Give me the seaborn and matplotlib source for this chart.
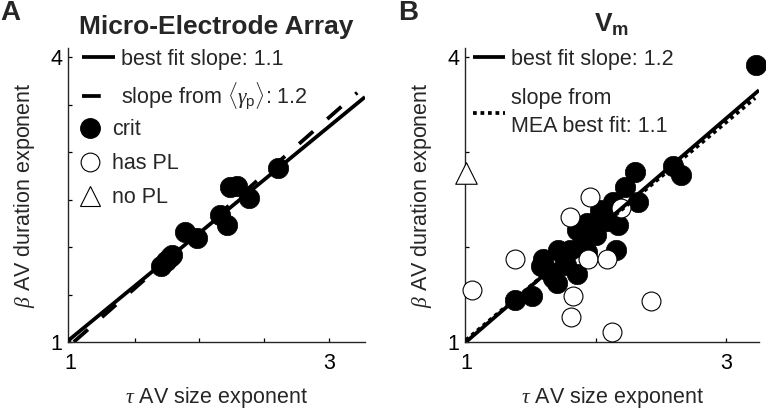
import numpy as np
import pandas as pd
import matplotlib
matplotlib.use("Agg")
import matplotlib.pyplot as plt
import seaborn as sns
from matplotlib.lines import Line2D

# ---------------- data ----------------
# Panel A: Micro-Electrode Array (all "crit")
mea_tau = [1.70, 1.74, 1.77, 1.79, 1.89, 1.98, 2.16, 2.21, 2.24, 2.29, 2.38, 2.61]
mea_beta = [1.80, 1.85, 1.90, 1.92, 2.16, 2.10, 2.34, 2.23, 2.63, 2.64, 2.52, 2.83]

# Panel B: Vm
vm_crit_tau = [1.38, 1.51, 1.59, 1.62, 1.58, 1.67, 1.70, 1.71, 1.75, 1.77, 1.80, 1.85,
               1.85, 1.90, 1.93, 1.93, 2.00, 2.03, 2.08, 2.13, 2.15, 2.17, 2.22,
               2.30, 2.32, 2.59, 2.65, 3.23]
vm_crit_beta = [1.44, 1.48, 1.88, 1.76, 1.80, 1.68, 1.62, 1.97, 1.90, 1.81, 1.97, 1.72,
                2.18, 2.07, 2.26, 1.95, 2.13, 2.39, 2.28, 2.48, 1.97, 2.23, 2.63,
                2.79, 2.48, 2.86, 2.76, 3.92]
vm_pl_tau = [1.05, 1.38, 1.80, 1.95, 1.94, 2.08, 1.82, 1.81, 2.12, 2.42, 2.19]
vm_pl_beta = [1.55, 1.88, 2.32, 2.53, 1.88, 1.88, 1.49, 1.26, 1.11, 1.43, 2.41]
vm_nopl_tau = [1.00]
vm_nopl_beta = [2.78]

# line fits: (slope, value at tau = 1, tau range)
a_fit = (1.12, 1.03, 0.985, 3.28)
a_gamma = (1.20, 0.965, 1.03, 3.22)
b_fit = (1.18, 1.0, 1.0, 3.25)
b_mea = (1.15, 1.02, 1.0, 3.22)

# ---------------- style ----------------
sns.set_theme(style="ticks")
plt.rcParams["font.family"] = ["Liberation Sans", "DejaVu Sans"]
plt.rcParams["mathtext.fontset"] = "custom"
plt.rcParams["mathtext.rm"] = "Liberation Sans"
plt.rcParams["mathtext.it"] = "Liberation Serif:italic"
plt.rcParams["mathtext.bf"] = "Liberation Sans:bold"
plt.rcParams["mathtext.sf"] = "Liberation Sans"

FS = 15.5
fig = plt.figure(figsize=(7.66, 4.15), dpi=100)
axA = fig.add_axes([68 / 766, 73 / 415, 297 / 766, 294 / 415])
axB = fig.add_axes([465 / 766, 73 / 415, 294 / 766, 294 / 415])


def fit_line(ax, p, **kw):
    slope, y1, x0, x1 = p
    xs = np.array([x0, x1])
    df = pd.DataFrame({"x": xs, "y": y1 + slope * (xs - 1.0)})
    sns.lineplot(data=df, x="x", y="y", ax=ax, color="black", lw=2.7,
                 solid_capstyle="butt", dash_capstyle="butt", zorder=5, **kw)


S_FILL = 215
S_OPEN = 185

# Panel A
sns.scatterplot(x=mea_tau, y=mea_beta, ax=axA, s=S_FILL, color="black",
                edgecolor="black", linewidth=0.5, zorder=3)
fit_line(axA, a_fit)
fit_line(axA, a_gamma, dashes=(5, 5))

# Panel B
sns.scatterplot(x=vm_crit_tau, y=vm_crit_beta, ax=axB, s=S_FILL, color="black",
                edgecolor="black", linewidth=0.5, zorder=3, clip_on=False)
sns.scatterplot(x=vm_pl_tau, y=vm_pl_beta, ax=axB, s=S_OPEN, color="white",
                edgecolor="black", linewidth=0.8, zorder=4, clip_on=False)
sns.scatterplot(x=vm_nopl_tau, y=vm_nopl_beta, ax=axB, s=240, marker="^",
                color="white", edgecolor="black", linewidth=0.8, zorder=4,
                clip_on=False)
fit_line(axB, b_fit)
fit_line(axB, b_mea, dashes=(1, 1))

for ax in (axA, axB):
    ax.set_ylim(1.0, 4.1)
    sns.despine(ax=ax)
    ax.spines["left"].set_linewidth(1.0)
    ax.spines["bottom"].set_linewidth(1.0)
    ax.tick_params(direction="in", length=3, width=0.9, labelsize=FS, colors="black")
    ax.tick_params(axis="x", pad=8)
    ax.tick_params(axis="y", pad=4)
    ax.set_xlabel(r"$\tau$ AV size exponent", fontsize=FS, labelpad=8)
    ax.set_ylabel(r"$\beta$ AV duration exponent", fontsize=FS, labelpad=10)

axA.set_xlim(0.985, 3.28)
axB.set_xlim(0.993, 3.25)

axA.set_xticks([1, 1.5, 2, 2.5, 3], ["1", "", "", "", "3"])
axA.set_yticks([1, 1.5, 2, 2.5, 3, 3.5, 4], ["1", "", "", "", "", "", "4"])
axB.set_xticks([1, 2, 3], ["1", "", "3"])
axB.set_yticks([1, 2, 3, 4], ["1", "", "", "4"])

axA.set_title("Micro-Electrode Array", fontsize=19, fontweight="bold", pad=10)
axB.set_title(r"$\mathbf{V_m}$", fontsize=19, pad=12)

fig.text(0.0, 1.0, "A", fontsize=20, fontweight="bold", ha="left", va="top")
fig.text(398 / 766, 1.0, "B", fontsize=20, fontweight="bold", ha="left", va="top")

# Legends
hA1 = [Line2D([], [], color="black", lw=2.7, solid_capstyle="butt"),
       Line2D([], [], color="black", lw=2.7, dashes=(5, 5), dash_capstyle="butt")]
legA1 = axA.legend(hA1, ["best fit slope: 1.1", r"slope from $\langle\gamma_{\mathrm{p}}\rangle$: 1.2"],
                   loc="upper left", bbox_to_anchor=(0.047, 0.998), frameon=False,
                   fontsize=FS, handlelength=1.55, handletextpad=0.25,
                   labelspacing=0.5, borderpad=0, borderaxespad=0)
axA.add_artist(legA1)
hA2 = [Line2D([], [], ls="none", marker="o", ms=14, mfc="black", mec="black"),
       Line2D([], [], ls="none", marker="o", ms=13.5, mfc="white", mec="black", mew=0.8),
       Line2D([], [], ls="none", marker="^", ms=14.5, mfc="white", mec="black", mew=0.8)]
axA.legend(hA2, ["crit", "has PL", "no PL"], loc="upper left",
           bbox_to_anchor=(0.04, 0.757), frameon=False, fontsize=FS,
           handlelength=0.96, handletextpad=0.55, labelspacing=0.6,
           borderpad=0, borderaxespad=0)

hB = [Line2D([], [], color="black", lw=2.7, solid_capstyle="butt"),
      Line2D([], [], color="black", lw=2.7, dashes=(1, 1), dash_capstyle="butt")]
legB = axB.legend(hB, ["best fit slope: 1.2", "slope from\nMEA best fit: 1.1"],
                  loc="upper left", bbox_to_anchor=(0.027, 0.998), frameon=False,
                  fontsize=FS, handlelength=1.5, handletextpad=0.25,
                  labelspacing=0.85, borderpad=0, borderaxespad=0)
for t in legB.get_texts():
    t.set_linespacing(1.45)

fig.savefig("out.png", dpi=100)
